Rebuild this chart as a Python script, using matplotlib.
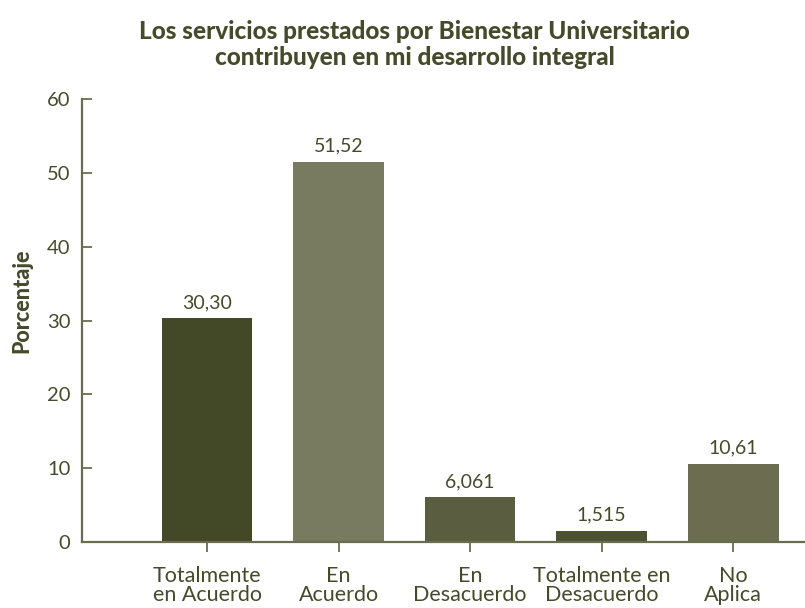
import matplotlib
matplotlib.use("Agg")
import matplotlib.pyplot as plt

categories = ["Totalmente\nen Acuerdo", "En\nAcuerdo", "En\nDesacuerdo",
              "Totalmente en\nDesacuerdo", "No\nAplica"]
values = [30.30, 51.52, 6.061, 1.515, 10.61]
value_labels = ["30,30", "51,52", "6,061", "1,515", "10,61"]
bar_colors = ["#434826", "#797B61", "#5A5D40", "#4B5131", "#6C6C51"]
y_ticks = [0, 10, 20, 30, 40, 50, 60]

title = "Los servicios prestados por Bienestar Universitario\ncontribuyen en mi desarrollo integral"
ylabel = "Porcentaje"

text_color = "#454B2A"
axis_color = "#6A6C50"

plt.rcParams["font.family"] = ["Lato", "DejaVu Sans"]

fig = plt.figure(figsize=(8.05, 6.08), dpi=100)
ax = fig.add_axes([0.102, 0.1086, 0.897, 0.7284])

x = list(range(len(values)))
ax.bar(x, values, width=0.69, color=bar_colors, zorder=2)

for xi, v, lab in zip(x, values, value_labels):
    ax.annotate(lab, (xi, v), xytext=(0, 5), textcoords="offset points",
                ha="center", va="bottom", fontsize=14, color=text_color)

ax.set_xlim(-0.95, 4.54)
ax.set_ylim(0, 60)
ax.set_yticks(y_ticks)
ax.set_yticklabels([str(t) for t in y_ticks])
ax.set_xticks(x)
ax.set_xticklabels(categories, fontsize=15.5, color=text_color, linespacing=0.95)

ax.tick_params(axis="y", direction="in", length=7, width=1.3, color=axis_color,
               labelsize=14.5, labelcolor=text_color, pad=8.5)
ax.tick_params(axis="x", direction="out", length=7, width=1.3, color=axis_color,
               pad=10)

for s in ["top", "right"]:
    ax.spines[s].set_visible(False)
for s in ["left", "bottom"]:
    ax.spines[s].set_color(axis_color)
    ax.spines[s].set_linewidth(1.6)

fig.text(0.515, 0.927, title, ha="center", va="center", fontsize=17.5,
         fontweight=900, color=text_color, linespacing=1.12)
fig.text(0.027, 0.505, ylabel, ha="center", va="center", rotation=90,
         fontsize=15.5, fontweight=900, color=text_color)

fig.savefig("out.png", dpi=100)
